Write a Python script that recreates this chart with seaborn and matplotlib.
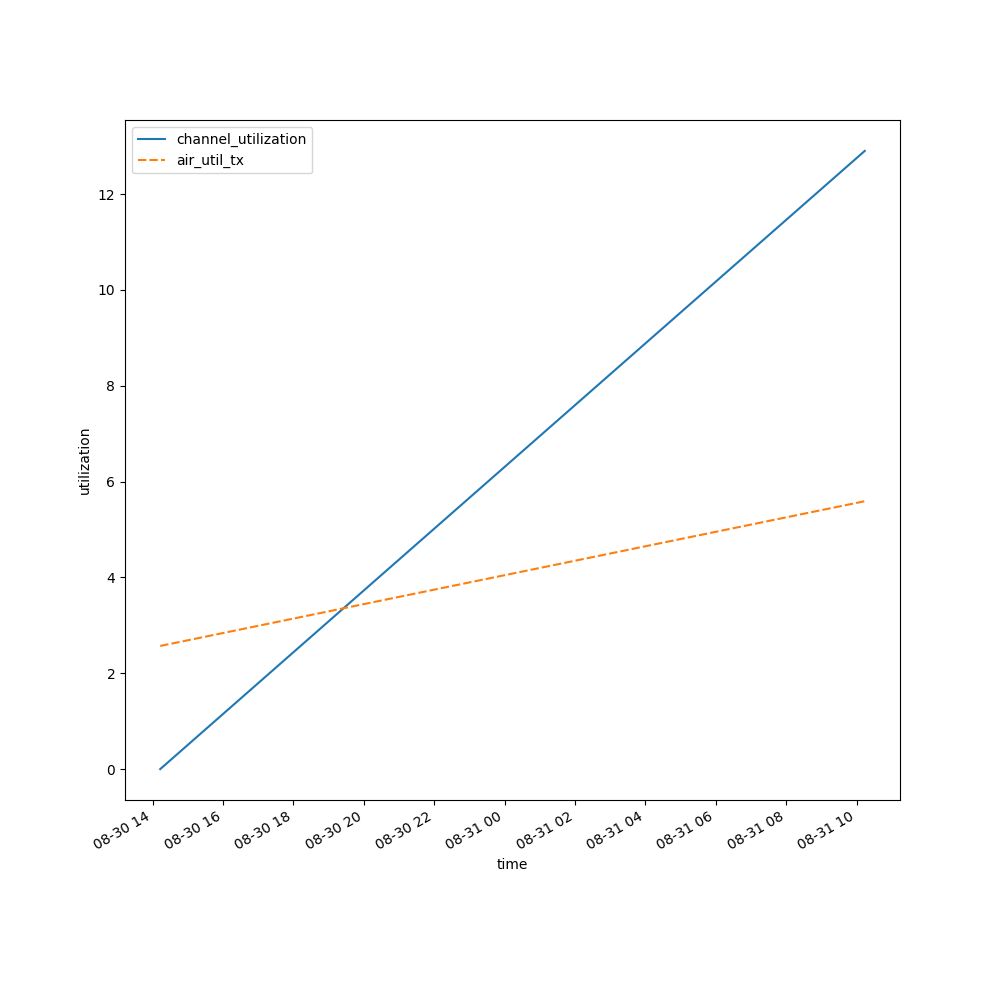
import pandas as pd
import matplotlib
matplotlib.use("Agg")
import matplotlib.pyplot as plt
import matplotlib.dates as mdates
import seaborn as sns

# data
times = pd.to_datetime(["2024-08-30 14:13", "2024-08-31 10:14"])
channel_utilization = [0.0, 12.90]
air_util_tx = [2.57, 5.59]

df = pd.DataFrame({
    "channel_utilization": channel_utilization,
    "air_util_tx": air_util_tx,
}, index=times)
df.index.name = "time"

fig, ax = plt.subplots(figsize=(10, 10), dpi=100)
sns.lineplot(data=df, ax=ax)
ax.set_xlabel("time")
ax.set_ylabel("utilization")
ax.legend(loc="upper left")
ax.xaxis.set_major_locator(mdates.HourLocator(byhour=range(0, 24, 2)))
ax.xaxis.set_major_formatter(mdates.DateFormatter("%m-%d %H"))
fig.autofmt_xdate()
plt.savefig("out.png")
plt.close()
